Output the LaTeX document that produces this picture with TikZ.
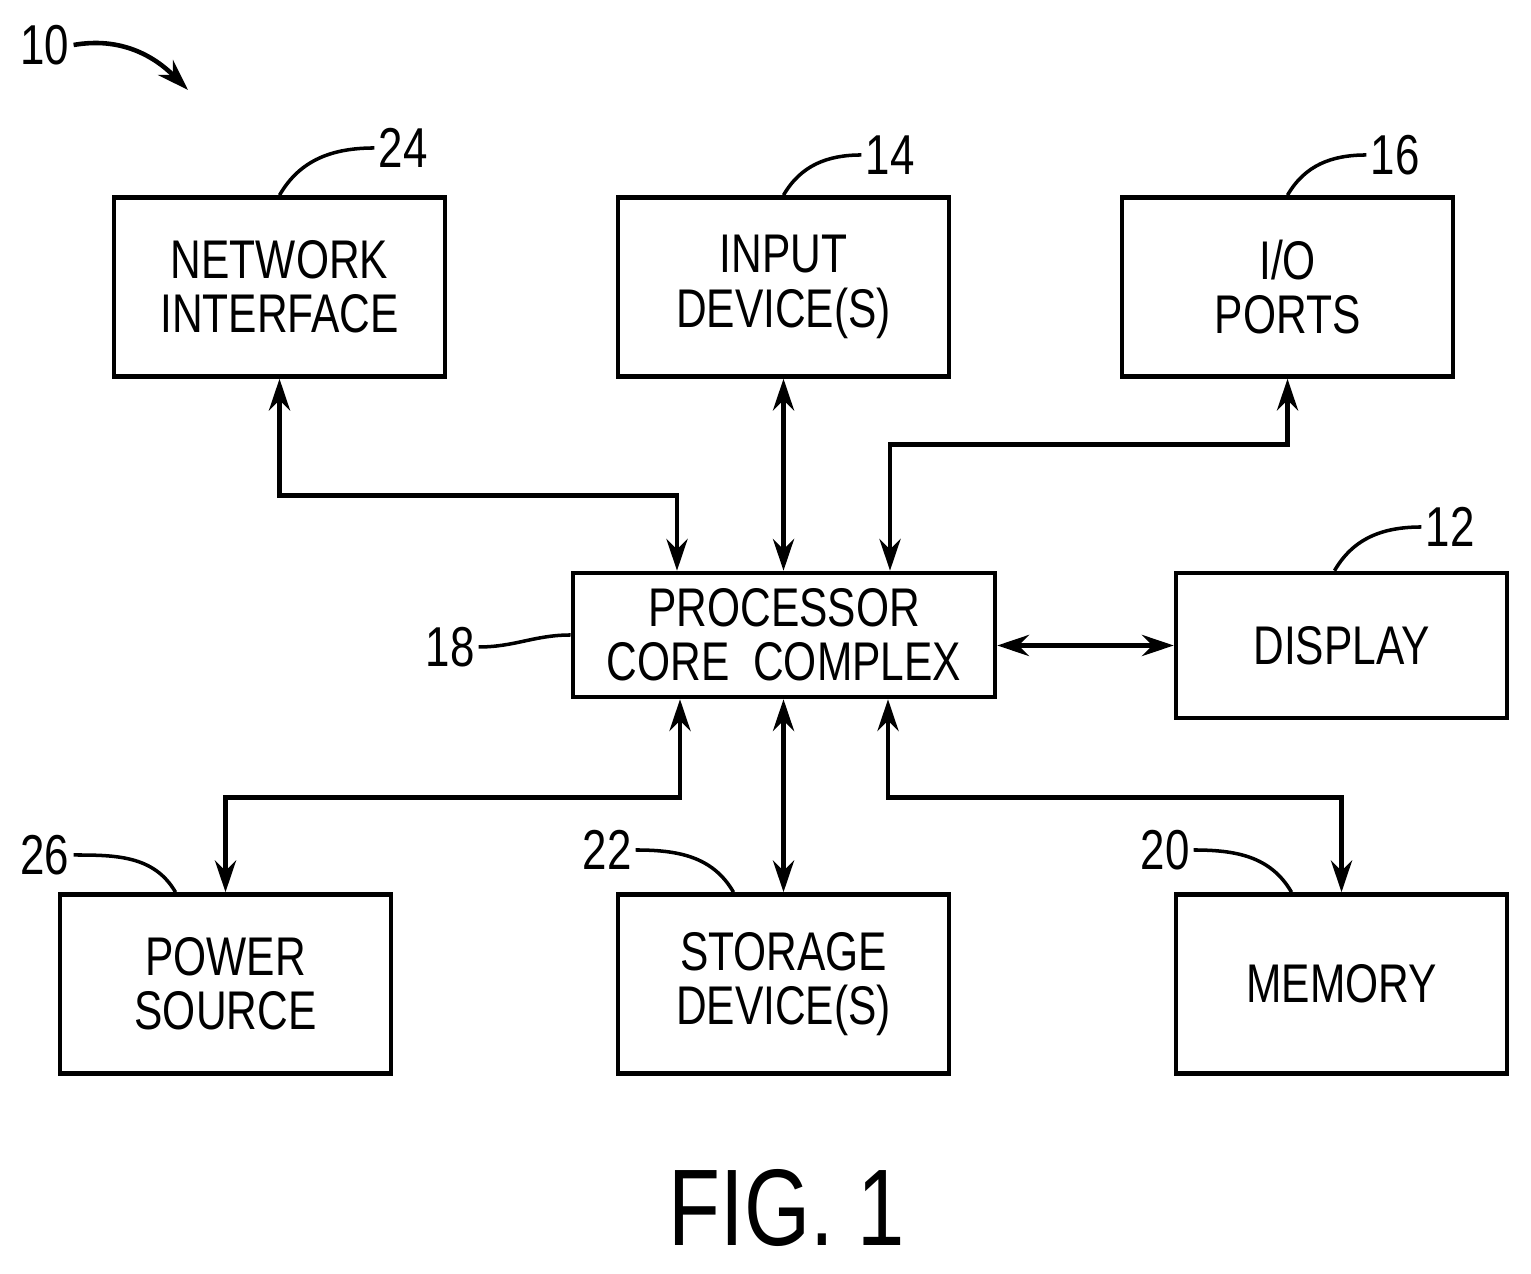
\documentclass[tikz,border=0pt]{standalone}
\usepackage{fontspec}
\setmainfont[FakeStretch=0.78]{Liberation Sans}
\usetikzlibrary{positioning,arrows.meta}
\tikzset{
  block/.style={draw, line width=1.3pt, minimum width=3.31cm, minimum height=1.79cm,
    align=center, font=\fontsize{15.5}{15.5}\selectfont, inner sep=0pt},
  num/.style={font=\fontsize{16}{18}\selectfont, inner sep=1pt},
  link/.style={line width=1.3pt, {Stealth[length=9pt,width=6pt]}-{Stealth[length=9pt,width=6pt]}},
  oneway/.style={line width=1.3pt, -{Stealth[length=9pt,width=6pt]}},
  lead/.style={line width=1pt}
}
\begin{document}
\begin{tikzpicture}
\useasboundingbox (0,0) rectangle (15.31,12.74);

% blocks
\node[block] (net) at (2.795,9.87) {NETWORK\\INTERFACE};
\node[block] (input) at (7.835,9.87) {INPUT\\DEVICE(S)};
\node[block] (io) at (12.875,9.87) {I/O\\PORTS};
\node[block, minimum width=4.22cm, minimum height=1.24cm] (proc) at (7.84,6.39) {PROCESSOR\\CORE\ \ COMPLEX};
\node[block, minimum height=1.45cm] (disp) at (13.415,6.285) {DISPLAY};
\node[block] (power) at (2.255,2.90) {POWER\\SOURCE};
\node[block] (storage) at (7.835,2.90) {STORAGE\\DEVICE(S)};
\node[block] (memory) at (13.415,2.90) {MEMORY};

% connectors
\draw[link] (net.south) -- ++(0,-1.17) -| ([xshift=-1.07cm]proc.north);
\draw[link] (input.south) -- (input.south |- proc.north);
\draw[link] (io.south) -- ++(0,-0.66) -| ([xshift=1.06cm]proc.north);
\draw[link] (proc.east |- disp) -- (disp.west);
\draw[link] ([xshift=-1.04cm]proc.south) -- ++(0,-0.98) -| (power.north);
\draw[link] (storage.north |- proc.south) -- (storage.north);
\draw[link] ([xshift=1.04cm]proc.south) -- ++(0,-0.98) -| (memory.north);

% reference numerals
\node[num] (l10) at (0.45,12.29) {10};
\coordinate (c10) at (1.88,11.84);
\draw[oneway] (l10.east) to[out=10,in=135] (c10);
\node[num] (l24) at (4.03,11.26) {24};
\draw[lead] (net.north) to[out=60,in=180] (l24.west);
\node[num] (l14) at (8.90,11.19) {14};
\draw[lead] (input.north) to[out=60,in=180] (l14.west);
\node[num] (l16) at (13.95,11.19) {16};
\draw[lead] (io.north) to[out=60,in=180] (l16.west);
\node[num] (l12) at (14.50,7.47) {12};
\draw[lead] ([xshift=-0.07cm]disp.north) to[out=60,in=180] (l12.west);
\node[num] (l18) at (4.50,6.27) {18};
\draw[lead] (proc.west) to[out=180,in=0] (l18.east);
\node[num] (l26) at (0.45,4.19) {26};
\draw[lead] ([xshift=-0.50cm]power.north) to[out=120,in=0] (l26.east);
\node[num] (l22) at (6.07,4.24) {22};
\draw[lead] ([xshift=-0.50cm]storage.north) to[out=120,in=0] (l22.east);
\node[num] (l20) at (11.65,4.24) {20};
\draw[lead] ([xshift=-0.50cm]memory.north) to[out=120,in=0] (l20.east);

\node[font=\fontsize{31}{34}\selectfont] (fig) at (7.87,0.66) {FIG. 1};
\end{tikzpicture}
\end{document}
